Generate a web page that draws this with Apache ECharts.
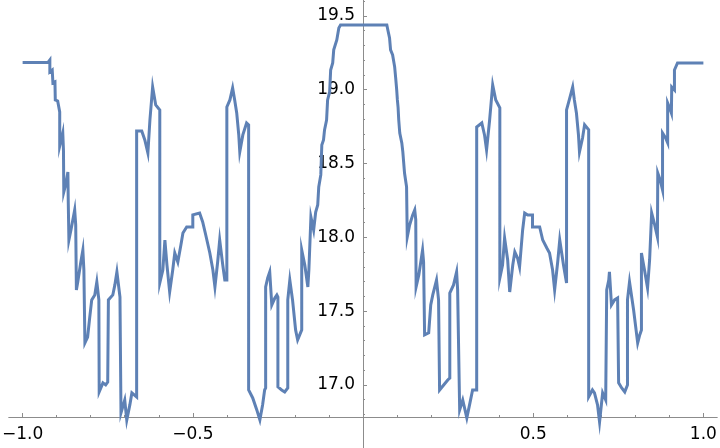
<!DOCTYPE html>
<html>
<head>
<meta charset="utf-8">
<script src="https://cdn.jsdelivr.net/npm/echarts@6/dist/echarts.min.js"></script>
<style>
    html, body { margin: 0; padding: 0; background: #fff; }
    #chart { width: 720px; height: 448px; }
</style>
</head>
<body>
<div id="chart"></div>
<script>
// left half, x from -1 to 0
const xLeft = [-1.0, -0.926, -0.920, -0.920, -0.913, -0.911, -0.905, -0.904, -0.897, -0.891, -0.891, -0.886, -0.882, -0.880, -0.879, -0.873, -0.867, -0.866, -0.864, -0.858,
    -0.847, -0.844, -0.842, -0.838, -0.829, -0.823, -0.820, -0.817, -0.809, -0.803, -0.797, -0.788, -0.782, -0.776, -0.775, -0.764, -0.756, -0.750, -0.748, -0.735,
    -0.729, -0.723, -0.714, -0.711, -0.700, -0.694, -0.685, -0.679, -0.665, -0.665, -0.650, -0.641, -0.632, -0.626, -0.618, -0.609, -0.597, -0.597, -0.588, -0.582,
    -0.576, -0.568, -0.559, -0.553, -0.544, -0.535, -0.529, -0.518, -0.500, -0.500, -0.480, -0.471, -0.462, -0.450, -0.441, -0.435, -0.427, -0.421, -0.412, -0.406,
    -0.400, -0.400, -0.391, -0.383, -0.377, -0.371, -0.365, -0.362, -0.353, -0.342, -0.336, -0.336, -0.324, -0.312, -0.303, -0.295, -0.289, -0.286, -0.286, -0.280,
    -0.274, -0.268, -0.259, -0.253, -0.250, -0.250, -0.239, -0.230, -0.221, -0.221, -0.215, -0.207, -0.198, -0.192, -0.186, -0.180, -0.180, -0.171, -0.162, -0.159,
    -0.153, -0.145, -0.139, -0.133, -0.130, -0.124, -0.121, -0.116, -0.113, -0.107, -0.104, -0.098, -0.095, -0.089, -0.086, -0.077, -0.071, -0.066, 0];
const yLeft = [19.184, 19.184, 19.202, 19.121, 19.134, 19.046, 19.053, 18.931, 18.924, 18.850, 18.619, 18.667, 18.707, 18.592, 18.308, 18.362, 18.443, 18.253, 17.982, 18.050,
    18.186, 18.084, 17.644, 17.698, 17.833, 17.914, 17.779, 17.285, 17.325, 17.454, 17.576, 17.610, 17.698, 17.576, 16.953, 17.014, 17.000, 17.020, 17.576, 17.610,
    17.678, 17.766, 17.596, 16.811, 16.898, 16.763, 16.865, 16.946, 16.919, 18.721, 18.721, 18.660, 18.572, 18.795, 19.019, 18.897, 18.863, 17.691, 17.779, 17.982,
    17.813, 17.630, 17.779, 17.894, 17.833, 17.948, 18.030, 18.070, 18.070, 18.152, 18.165, 18.104, 18.016, 17.894, 17.779, 17.664, 17.833, 17.982, 17.813, 17.711,
    17.711, 18.883, 18.931, 19.012, 18.931, 18.843, 18.694, 18.579, 18.694, 18.775, 18.762, 16.966, 16.912, 16.831, 16.763, 16.865, 16.966, 16.980, 17.664, 17.725,
    17.766, 17.542, 17.589, 17.610, 17.596, 16.987, 16.966, 16.953, 16.980, 17.576, 17.711, 17.576, 17.373, 17.305, 17.339, 17.373, 17.914, 17.813, 17.664, 17.779,
    18.138, 18.050, 18.172, 18.220, 18.342, 18.423, 18.626, 18.660, 18.728, 18.795, 18.931, 18.985, 19.134, 19.182, 19.270, 19.337, 19.419, 19.439, 19.439];

// right half, x from 0 to 1
const xRight = [0.070, 0.073, 0.078, 0.081, 0.087, 0.093, 0.096, 0.099, 0.101, 0.103, 0.105, 0.108, 0.114, 0.117, 0.122, 0.125, 0.128, 0.130, 0.137, 0.146,
    0.152, 0.155, 0.156, 0.164, 0.175, 0.178, 0.181, 0.193, 0.199, 0.205, 0.216, 0.222, 0.225, 0.237, 0.249, 0.255, 0.255, 0.266, 0.275, 0.278,
    0.284, 0.293, 0.305, 0.313, 0.322, 0.334, 0.334, 0.349, 0.357, 0.363, 0.372, 0.381, 0.390, 0.402, 0.402, 0.410, 0.416, 0.425, 0.431, 0.440,
    0.446, 0.454, 0.460, 0.469, 0.475, 0.484, 0.498, 0.498, 0.519, 0.528, 0.540, 0.548, 0.557, 0.563, 0.572, 0.578, 0.589, 0.598, 0.598, 0.606,
    0.616, 0.621, 0.627, 0.633, 0.636, 0.645, 0.651, 0.663, 0.663, 0.674, 0.680, 0.689, 0.695, 0.704, 0.713, 0.716, 0.722, 0.724, 0.730, 0.739,
    0.748, 0.751, 0.760, 0.769, 0.777, 0.777, 0.783, 0.795, 0.807, 0.813, 0.818, 0.818, 0.827, 0.836, 0.842, 0.848, 0.857, 0.865, 0.866, 0.873,
    0.880, 0.880, 0.889, 0.895, 0.895, 0.901, 0.906, 0.907, 0.912, 0.915, 0.915, 0.924, 1.0];
const yRight = [19.439, 19.405, 19.351, 19.270, 19.236, 19.155, 19.080, 18.999, 18.931, 18.883, 18.795, 18.707, 18.640, 18.579, 18.436, 18.389, 18.342, 18.002, 18.084, 18.152,
    18.186, 18.118, 17.664, 17.745, 17.914, 17.833, 17.339, 17.353, 17.542, 17.610, 17.711, 17.576, 16.966, 17.000, 17.034, 17.047, 17.623, 17.678, 17.766, 17.644,
    16.831, 16.898, 16.777, 16.865, 16.966, 16.966, 18.748, 18.775, 18.694, 18.592, 18.795, 19.033, 18.931, 18.877, 17.725, 17.813, 17.996, 17.847, 17.630, 17.813,
    17.901, 17.860, 17.799, 18.050, 18.165, 18.152, 18.152, 18.070, 18.070, 17.982, 17.928, 17.894, 17.779, 17.644, 17.833, 17.982, 17.813, 17.691, 18.863, 18.931,
    19.019, 18.931, 18.843, 18.694, 18.579, 18.673, 18.762, 18.728, 16.919, 16.966, 16.946, 16.865, 16.749, 16.946, 16.898, 17.644, 17.711, 17.766, 17.542, 17.576,
    17.589, 17.014, 16.980, 16.953, 17.000, 17.576, 17.698, 17.508, 17.285, 17.339, 17.373, 17.894, 17.779, 17.657, 17.847, 18.165, 18.084, 18.002, 18.436, 18.389,
    18.321, 18.707, 18.673, 18.640, 18.911, 18.877, 18.843, 19.019, 19.012, 18.999, 19.134, 19.182, 19.182];

// ticks
const xTickLabels = [-1.0, -0.5, 0.5, 1.0];
const xMinorTicks = [-1.0, -0.9, -0.8, -0.7, -0.6, -0.5, -0.4, -0.3, -0.2, -0.1, 0, 0.1, 0.2, 0.3, 0.4, 0.5, 0.6, 0.7, 0.8, 0.9, 1.0];
const yTickLabels = [17.0, 17.5, 18.0, 18.5, 19.0, 19.5];
const yMinorTicks = [16.8, 16.9, 17.0, 17.1, 17.2, 17.3, 17.4, 17.5, 17.6, 17.7, 17.8, 17.9, 18.0, 18.1, 18.2, 18.3, 18.4, 18.5, 18.6, 18.7,
    18.8, 18.9, 19.0, 19.1, 19.2, 19.3, 19.4, 19.5, 19.6];

const xs = xLeft.concat(xRight);
const ys = yLeft.concat(yRight);
const points = xs.map(function (x, i) { return [x, ys[i]]; });

const AXIS_COLOR = '#8c8c8c';
const fmt = function (v) { return v.toFixed(1).replace('-', '\u2212'); };
const labelStyle = { fontFamily: 'DejaVu Sans', fontSize: 17, color: '#000' };

const W = 720, H = 448;
const gridLeft = 9, gridRight = 3, gridTop = 0, gridBottom = 31;
const xMin = -1.04, xMax = 1.04, yMin = 16.783, yMax = 19.608;
// shift the y axis from the grid's left edge to x = 0
const yOffset = -(W - gridLeft - gridRight) * (0 - xMin) / (xMax - xMin);

const chart = echarts.init(document.getElementById('chart'));

chart.setOption({
    animation: false,
    grid: { left: gridLeft, right: gridRight, top: gridTop, bottom: gridBottom, containLabel: false, outerBoundsMode: 'none' },
    xAxis: [{
        type: 'value', min: xMin, max: xMax, position: 'bottom',
        axisLine: { onZero: false, lineStyle: { color: AXIS_COLOR, width: 1 } },
        axisTick: { inside: true, length: 2, customValues: xMinorTicks, lineStyle: { color: AXIS_COLOR } },
        axisLabel: Object.assign({ customValues: xTickLabels, formatter: fmt, margin: 9 }, labelStyle),
        splitLine: { show: false }
    }, {
        type: 'value', min: xMin, max: xMax, position: 'bottom',
        axisLine: { onZero: false, lineStyle: { color: AXIS_COLOR, width: 1 } },
        axisTick: { inside: true, length: 4, customValues: xTickLabels, lineStyle: { color: AXIS_COLOR } },
        axisLabel: { show: false },
        splitLine: { show: false }
    }],
    yAxis: [{
        type: 'value', min: yMin, max: yMax, position: 'left', offset: yOffset,
        axisLine: { onZero: false, lineStyle: { color: AXIS_COLOR, width: 1 } },
        axisTick: { inside: true, length: 2, customValues: yMinorTicks, lineStyle: { color: AXIS_COLOR } },
        axisLabel: Object.assign({ customValues: yTickLabels, formatter: fmt, margin: 8 }, labelStyle),
        splitLine: { show: false }
    }, {
        type: 'value', min: yMin, max: yMax, position: 'left', offset: yOffset,
        axisLine: { onZero: false, lineStyle: { color: AXIS_COLOR, width: 1 } },
        axisTick: { inside: true, length: 4, customValues: yTickLabels, lineStyle: { color: AXIS_COLOR } },
        axisLabel: { show: false },
        splitLine: { show: false }
    }],
    series: [{
        type: 'line',
        data: points,
        showSymbol: false,
        clip: false,
        lineStyle: { color: '#5e81b5', width: 3, join: 'miter' }
    }]
});

// y axis runs on below the x axis to the bottom edge
const p = chart.convertToPixel({ gridIndex: 0 }, [0, yMin]);
chart.setOption({
    graphic: [{
        type: 'line', silent: true,
        shape: { x1: Math.round(p[0]) + 0.5, y1: p[1], x2: Math.round(p[0]) + 0.5, y2: H },
        style: { stroke: AXIS_COLOR, lineWidth: 1 }
    }]
});
</script>
</body>
</html>
